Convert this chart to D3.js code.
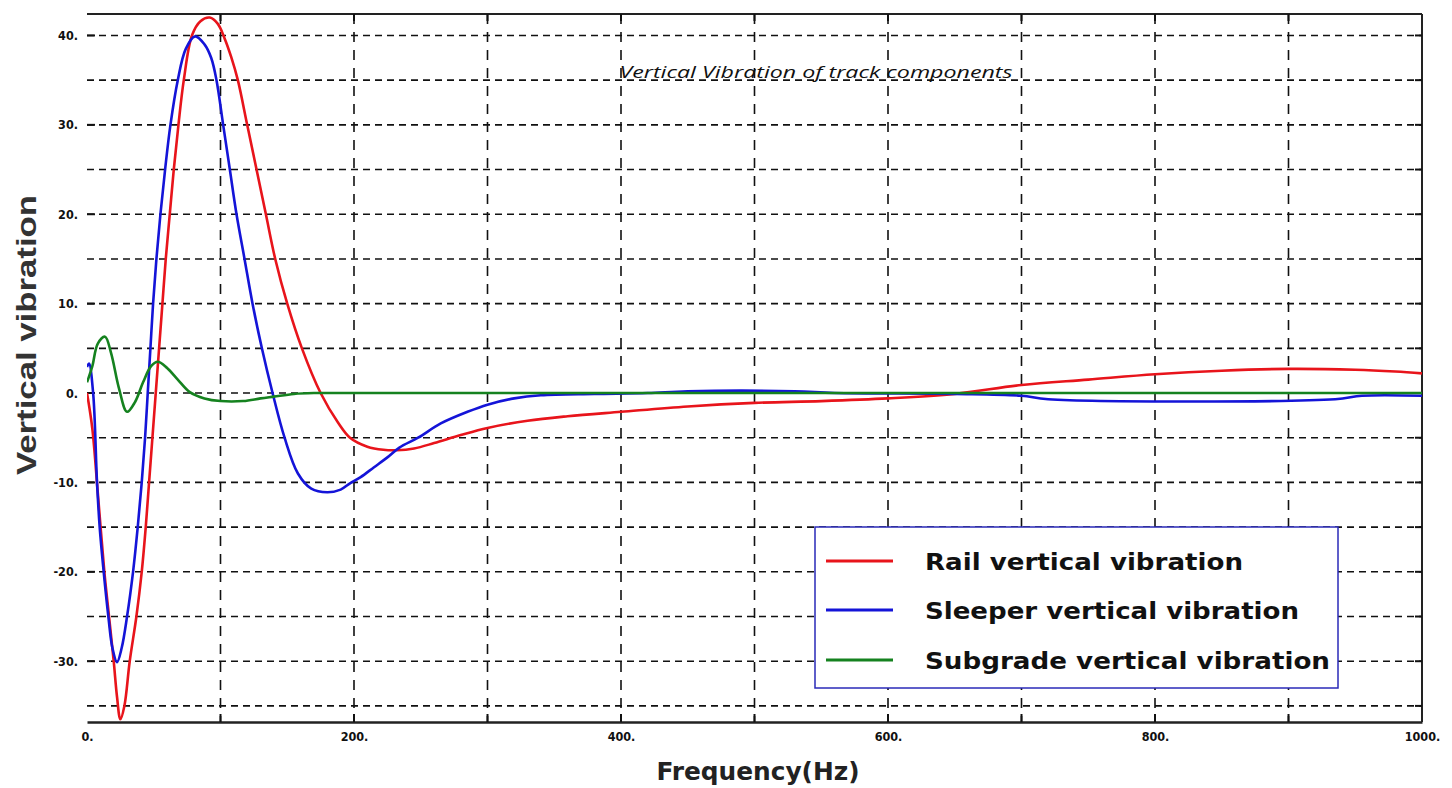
<!DOCTYPE html>
<html>
<head>
<meta charset="utf-8">
<script src="https://cdn.jsdelivr.net/npm/d3@7/dist/d3.min.js"></script>
<style>
  html, body { margin: 0; padding: 0; background: #ffffff; }
  svg { display: block; }
</style>
</head>
<body>
<svg id="chart" width="1452" height="788"></svg>
<script>
// ---------------- data ----------------
const chartTitle = "Vertical Vibration of track components";
const xTitle = "Frequency(Hz)";
const yTitle = "Vertical vibration";
const seriesNames = ["Rail vertical vibration", "Sleeper vertical vibration", "Subgrade vertical vibration"];
const seriesColors = ["#e8141b", "#1414d8", "#15821f"];

const xTickValues = [0, 200, 400, 600, 800, 1000];
const xTickLabels = ["0.", "200.", "400.", "600.", "800.", "1000."];
const yTickValues = [-30, -20, -10, 0, 10, 20, 30, 40];
const yTickLabels = ["-30.", "-20.", "-10.", "0.", "10.", "20.", "30.", "40."];
const xGridValues = [100, 200, 300, 400, 500, 600, 700, 800, 900];
const yGridValues = [-35, -30, -25, -20, -15, -10, -5, 0, 5, 10, 15, 20, 25, 30, 35, 40];

const railFreq = [0, 4, 8, 13, 16.5, 20, 22.5, 25, 28, 32, 37, 41, 44, 46.5, 49, 51.5, 54, 56.5, 59, 62, 65, 68.5, 72.5, 78.6, 85, 92, 98, 103, 108, 113, 120, 127, 134, 141, 150, 161, 175, 188, 197, 210, 222, 232, 245, 260, 280, 300, 330, 360, 400, 450, 500, 550, 600, 650, 700, 750, 800, 850, 900, 950, 980, 1000];
const railVal  = [0, -4, -11, -20, -25, -30, -34, -36.5, -35, -30, -25, -20, -15, -10, -5, 0, 5, 10, 15, 20, 25, 30, 35, 40, 41.6, 42, 41.3, 39.7, 37.6, 35, 30, 25, 20, 15, 10, 5, 0, -3.3, -5, -6, -6.35, -6.4, -6.2, -5.6, -4.7, -3.9, -3.1, -2.6, -2.1, -1.5, -1.1, -0.9, -0.6, -0.1, 0.9, 1.5, 2.1, 2.5, 2.7, 2.6, 2.4, 2.2];

const sleeperFreq = [0, 1.5, 4.6, 7.5, 9.5, 12.5, 16, 19, 22.5, 26, 30, 34.5, 38, 41, 43.5, 45.5, 47.5, 49.5, 52, 55, 58.5, 62.5, 68, 74, 81, 88, 93, 97, 102, 107, 112, 118, 124, 131, 139, 148, 158, 168, 180, 190, 197, 205, 215, 225, 234, 248, 265, 285, 300, 320, 340, 380, 420, 450, 530, 560, 650, 700, 720, 935, 955, 1000];
const sleeperVal  = [2.9, 3.3, 0, -10, -15, -20, -25, -28.5, -30.1, -28.5, -25, -20, -15, -10, -5, 0, 5, 10, 15, 20, 25, 30, 35, 38.5, 39.9, 39, 37.5, 35, 30, 25, 20, 15, 10, 5, 0, -5, -9, -10.7, -11.1, -10.8, -10.1, -9.4, -8.3, -7.2, -6.1, -5, -3.4, -2.1, -1.3, -0.6, -0.25, -0.1, 0, 0.2, 0.2, 0, -0.1, -0.3, -0.7, -0.7, -0.3, -0.3];

const subgradeFreq = [0, 4, 8, 13.5, 18, 24, 30, 36, 42, 48, 53, 60, 68, 77, 88, 100, 117, 130, 140, 155, 170, 200, 1000];
const subgradeVal  = [1.2, 3, 5.5, 6.3, 4.5, 0.5, -2.1, -1, 1.2, 3, 3.5, 2.8, 1.5, 0.1, -0.6, -0.9, -0.9, -0.6, -0.4, -0.1, 0, 0, 0];

// ---------------- layout ----------------
const svg = d3.select("#chart");
const L = 87, R = 1422, T = 14, B = 722;
const x = d3.scaleLinear().domain([0, 1000]).range([L, R]);
const y = d3.scaleLinear().domain([-36.8, 42.4]).range([B, T]);

svg.append("defs").append("clipPath").attr("id", "clip")
  .append("rect").attr("x", L).attr("y", T).attr("width", R - L).attr("height", B - T);

// grid
const grid = svg.append("g");
grid.selectAll(".hg").data(yGridValues).join("line")
  .attr("x1", L).attr("x2", R)
  .attr("y1", d => y(d)).attr("y2", d => y(d))
  .attr("stroke", "#111").attr("stroke-width", 1.6).attr("stroke-dasharray", "7,5");
grid.selectAll(".vg").data(xGridValues).join("line")
  .attr("x1", d => x(d)).attr("x2", d => x(d))
  .attr("y1", T).attr("y2", B)
  .attr("stroke", "#111").attr("stroke-width", 1.6).attr("stroke-dasharray", "10,8");

// frame: top, right
const frame = svg.append("g").attr("stroke", "#222").attr("stroke-width", 2);
frame.append("line").attr("x1", L).attr("x2", R).attr("y1", T).attr("y2", T);
frame.append("line").attr("x1", R).attr("x2", R).attr("y1", T).attr("y2", B);

// axes via d3
const xAxis = d3.axisBottom(x).tickValues(xTickValues).tickFormat((d, i) => xTickLabels[i]).tickSize(0).tickPadding(10);
const gx = svg.append("g").attr("transform", `translate(0,${B})`).call(xAxis);
gx.select(".domain").attr("stroke", "#222").attr("stroke-width", 2.5);
gx.selectAll("text").attr("font-family", "'DejaVu Sans Condensed', 'DejaVu Sans', sans-serif")
  .attr("font-weight", "bold").attr("font-size", 12.5).attr("fill", "#111");

const yAxis = d3.axisLeft(y).tickValues(yTickValues).tickFormat((d, i) => yTickLabels[i]).tickSize(0).tickPadding(9);
const gy = svg.append("g").attr("transform", `translate(${L},0)`).call(yAxis);
gy.select(".domain").remove();
gy.selectAll("text").attr("font-family", "'DejaVu Sans Condensed', 'DejaVu Sans', sans-serif")
  .attr("font-weight", "bold").attr("font-size", 12.5).attr("fill", "#111");

// tick marks
const ticks = svg.append("g").attr("stroke", "#111").attr("stroke-width", 2);
ticks.selectAll(".xt").data(xGridValues).join("line")
  .attr("x1", d => x(d)).attr("x2", d => x(d)).attr("y1", B).attr("y2", B - 8);
ticks.selectAll(".xtt").data(xGridValues).join("line")
  .attr("x1", d => x(d)).attr("x2", d => x(d)).attr("y1", T).attr("y2", T + 7);
ticks.selectAll(".yt").data(yTickValues).join("line")
  .attr("x1", L).attr("x2", L + 8).attr("y1", d => y(d)).attr("y2", d => y(d));
ticks.selectAll(".ytr").data(yGridValues).join("line")
  .attr("x1", R).attr("x2", R - 7).attr("y1", d => y(d)).attr("y2", d => y(d));

// series
const line = d3.line().x(d => x(d[0])).y(d => y(d[1])).curve(d3.curveCatmullRom.alpha(0.5));
const seriesData = [
  d3.zip(railFreq, railVal),
  d3.zip(sleeperFreq, sleeperVal),
  d3.zip(subgradeFreq, subgradeVal)
];
const plot = svg.append("g").attr("clip-path", "url(#clip)");
[0, 1, 2].forEach(i => {
  plot.append("path").datum(seriesData[i])
    .attr("fill", "none").attr("stroke", seriesColors[i]).attr("stroke-width", 2.6)
    .attr("stroke-linejoin", "round")
    .attr("d", line);
});

// titles
svg.append("text").attr("x", 816).attr("y", 78).attr("text-anchor", "middle")
  .attr("font-family", "'Open Sans', 'DejaVu Sans', sans-serif").attr("font-style", "italic")
  .attr("font-size", 17).attr("fill", "#111")
  .attr("textLength", 393).attr("lengthAdjust", "spacingAndGlyphs")
  .text(chartTitle);

svg.append("text").attr("x", 758).attr("y", 780).attr("text-anchor", "middle")
  .attr("font-family", "'DejaVu Sans Condensed', 'Liberation Sans', sans-serif").attr("font-weight", "bold")
  .attr("font-size", 25).attr("fill", "#222")
  .attr("textLength", 203).attr("lengthAdjust", "spacingAndGlyphs")
  .text(xTitle);

svg.append("text").attr("transform", "translate(36,335) rotate(-90)").attr("text-anchor", "middle")
  .attr("font-family", "'Liberation Sans', Arial, sans-serif").attr("font-weight", "bold")
  .attr("font-size", 28).attr("fill", "#333")
  .attr("textLength", 280).attr("lengthAdjust", "spacingAndGlyphs")
  .text(yTitle);

// legend
const lg = svg.append("g");
lg.append("rect").attr("x", 815).attr("y", 527).attr("width", 523).attr("height", 161)
  .attr("fill", "#ffffff").attr("stroke", "#2a2ab8").attr("stroke-width", 1.5);
const legendY = [561, 610, 660];
const legendLen = [318, 374, 405];
seriesNames.forEach((name, i) => {
  lg.append("line").attr("x1", 826).attr("x2", 893).attr("y1", legendY[i]).attr("y2", legendY[i])
    .attr("stroke", seriesColors[i]).attr("stroke-width", 2.8);
  lg.append("text").attr("x", 925).attr("y", legendY[i] + 9)
    .attr("font-family", "'DejaVu Sans', sans-serif").attr("font-weight", "bold")
    .attr("font-size", 23).attr("fill", "#111")
    .attr("textLength", legendLen[i]).attr("lengthAdjust", "spacingAndGlyphs")
    .text(name);
});
</script>
</body>
</html>
